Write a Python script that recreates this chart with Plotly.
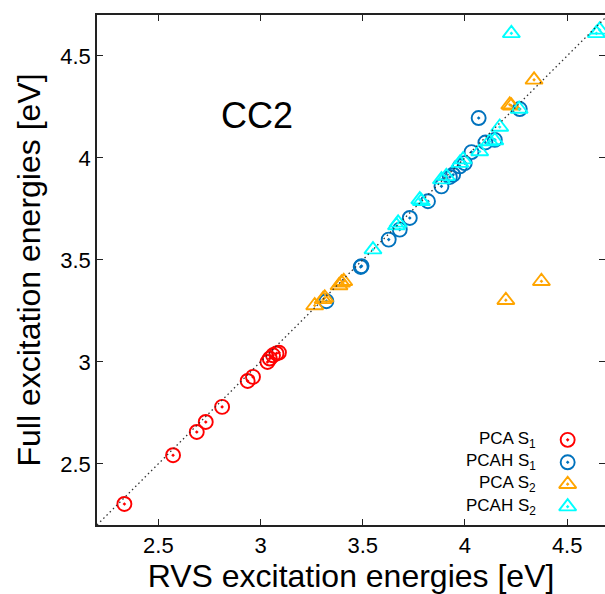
import plotly.graph_objects as go

# ---------------- data (eV) ----------------
pca_s1_x = [2.334, 2.572, 2.688, 2.732, 2.812, 2.937, 2.963, 3.034, 3.045, 3.061, 3.078, 3.090]
pca_s1_y = [2.303, 2.542, 2.656, 2.705, 2.779, 2.906, 2.926, 2.999, 3.016, 3.032, 3.041, 3.045]

pcah_s1_x = [3.322, 3.494, 3.490, 3.627, 3.681, 3.730, 3.819, 3.885, 3.926, 3.942, 3.975, 3.999,
             4.032, 4.100, 4.146, 4.067, 4.268]
pcah_s1_y = [3.297, 3.469, 3.465, 3.599, 3.648, 3.705, 3.787, 3.860, 3.906, 3.917, 3.958, 3.974,
             4.028, 4.075, 4.088, 4.195, 4.239]

pca_s2_x = [3.265, 3.306, 3.314, 3.384, 3.396, 3.407, 4.374, 4.200, 4.219, 4.227, 4.338]
pca_s2_y = [3.276, 3.306, 3.314, 3.374, 3.387, 3.395, 3.395, 3.302, 4.260, 4.255, 4.382]

pcah_s2_x = [3.550, 3.665, 3.673, 3.779, 3.787, 3.885, 3.909, 3.975, 3.991, 4.072, 4.121, 4.146,
             4.170, 4.265, 4.227, 4.643, 4.659]
pcah_s2_y = [3.550, 3.668, 3.681, 3.795, 3.787, 3.893, 3.909, 3.974, 3.991, 4.031, 4.080, 4.085,
             4.151, 4.239, 4.610, 4.610, 4.627]

tick_vals = [2.5, 3.0, 3.5, 4.0, 4.5]
tick_text = ["2.5", "3", "3.5", "4", "4.5"]
diag = [2.2, 4.7]

series_names = ["PCA S<sub>1</sub>", "PCAH S<sub>1</sub>", "PCA S<sub>2</sub>", "PCAH S<sub>2</sub>"]
series_x = [pca_s1_x, pcah_s1_x, pca_s2_x, pcah_s2_x]
series_y = [pca_s1_y, pcah_s1_y, pca_s2_y, pcah_s2_y]
series_colors = ["#ff0000", "#0072bd", "#ffa500", "#00ffff"]
series_symbols = ["circle-open-dot", "circle-open-dot", "triangle-up-open-dot", "triangle-up-open-dot"]
series_sizes = [14, 14, 15, 15]

FONT = "Liberation Sans, Arial, Helvetica, sans-serif"
AXC = "#222222"

fig = go.Figure()

for xs, ys, c, s, sz in zip(series_x, series_y, series_colors, series_symbols, series_sizes):
    fig.add_trace(go.Scatter(
        x=xs, y=ys, mode="markers", showlegend=False, hoverinfo="skip",
        marker=dict(symbol=s, size=sz, color=c, line=dict(width=1.9, color=c)),
    ))

# y = x reference line (on the right-tick overlay axis, same range)
fig.add_trace(go.Scatter(
    x=diag, y=diag, mode="lines", showlegend=False, hoverinfo="skip",
    line=dict(color="#333333", width=1.3, dash="1.5px,3px"),
    xaxis="x", yaxis="y2",
))

# custom legend (text left, symbol right) on a unit overlay axis
leg_y = [0.167, 0.123, 0.080, 0.036]
leg_x_sym = 0.9265
leg_x_txt = 0.868
for name, c, s, sz, ly in zip(series_names, series_colors, series_symbols, series_sizes, leg_y):
    fig.add_trace(go.Scatter(
        x=[leg_x_sym], y=[ly], mode="markers", showlegend=False, hoverinfo="skip",
        marker=dict(symbol=s, size=sz, color=c, line=dict(width=1.9, color=c)),
        xaxis="x2", yaxis="y3",
    ))
    fig.add_annotation(
        x=leg_x_txt, y=ly, xref="paper", yref="paper", xanchor="right", yanchor="middle",
        text=name, showarrow=False, font=dict(family=FONT, size=17, color="black"),
    )

fig.add_annotation(
    x=0.315, y=0.802, xref="paper", yref="paper", xanchor="center", yanchor="middle",
    text="CC2", showarrow=False, font=dict(family=FONT, size=36, color="black"),
)

axis_common = dict(
    showgrid=False, zeroline=False, ticks="inside", ticklen=6, tickwidth=1.2,
    tickcolor=AXC, tickvals=tick_vals, ticktext=tick_text,
    tickfont=dict(family=FONT, size=22, color="black"),
)

fig.update_layout(
    width=605, height=594,
    margin=dict(l=97, r=0, t=15, b=69),
    paper_bgcolor="white", plot_bgcolor="white",
    font=dict(family=FONT, color="black"),
    xaxis=dict(
        range=[2.2, 4.685], showline=True, linecolor=AXC, linewidth=1.5, mirror="ticks",
        title=dict(text="RVS excitation energies [eV]", font=dict(family=FONT, size=32, color="black"), standoff=6),
        **axis_common,
    ),
    yaxis=dict(
        range=[2.2, 4.7], showline=True, linecolor=AXC, linewidth=1.5, mirror=False,
        title=dict(text="Full excitation energies [eV]", font=dict(family=FONT, size=32, color="black"), standoff=10),
        **axis_common,
    ),
    yaxis2=dict(
        range=[2.2, 4.7], overlaying="y", side="right", showline=False,
        showticklabels=False, **{k: v for k, v in axis_common.items() if k != "tickfont"},
    ),
    xaxis2=dict(range=[0, 1], overlaying="x", visible=False, anchor="y3"),
    yaxis3=dict(range=[0, 1], overlaying="y", visible=False, anchor="x2"),
)

fig.write_html("out.html")
